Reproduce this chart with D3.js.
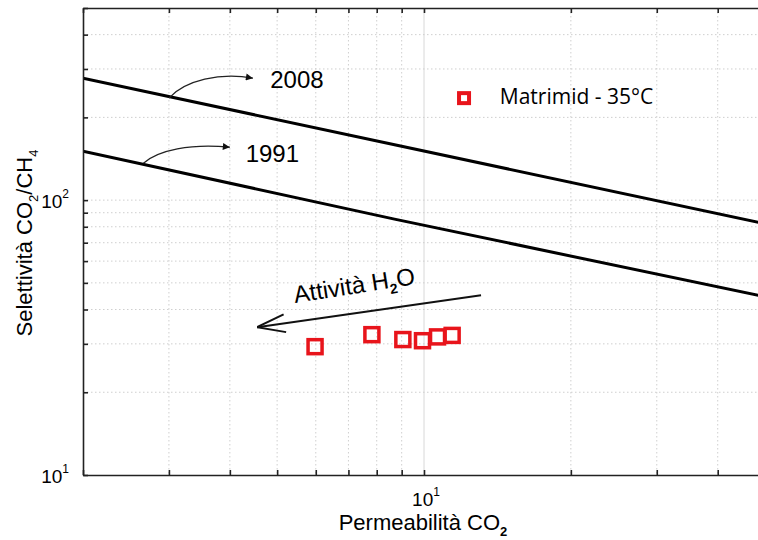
<!DOCTYPE html>
<html>
<head>
<meta charset="utf-8">
<script src="https://cdn.jsdelivr.net/npm/d3@7"></script>
<style>
  html, body { margin: 0; padding: 0; background: #fff; }
  svg { display: block; }
  text { font-family: "Liberation Sans", Arial, sans-serif; fill: #000; }
</style>
</head>
<body>
<svg id="chart" width="758" height="540"></svg>
<script>
// ---------------- DATA ----------------
const xDomain = [2, 50];
const yDomain = [10, 500];
const xMinorTicks = [2, 3, 4, 5, 6, 7, 8, 9, 10, 20, 30, 40, 50];
const yMinorTicks = [10, 20, 30, 40, 50, 60, 70, 80, 90, 100, 200, 300, 400, 500];
const xMajorTicks = [10];
const yMajorTicks = [10, 100];
const xMajorLabels = ["1"];          // exponents of 10
const yMajorLabels = ["1", "2"];

// Matrimid - 35°C data (Permeability CO2, Selectivity CO2/CH4)
const matrimidP = [5.98, 7.82, 9.05, 9.93, 10.66, 11.42];
const matrimidS = [29.3, 32.4, 31.1, 30.8, 31.8, 32.2];

// Robeson upper bounds
const bound2008P = [2, 50];
const bound2008S = [277.7, 82.0];
const bound1991P = [2, 8.7, 50];
const bound1991S = [150.7, 85.3, 44.5];

// annotation anchors (data units)
const arrow2008 = [[3.0, 235], [3.24, 273], [3.82, 292], [4.46, 277.7]];
const arrow1991 = [[2.66, 136.3], [2.85, 152], [3.32, 161], [4.0, 155.8]];
const label2008 = { text: "2008", p: 4.84, s: 255 };
const label1991 = { text: "1991", p: 4.31, s: 137.4 };
const waterArrow = [[13.09, 45.1], [4.55, 34.5]];
const waterLabel = { p: 5.44, s: 42.2 };
const legendSym = { p: 12.08, s: 235 };
const legendText = { text: "Matrimid - 35°C", p: 14.3, s: 223 };

// ---------------- CHART ----------------
const svg = d3.select("#chart");
const L = 83, R = 765, T = 8, B = 475;

const x = d3.scaleLog().domain(xDomain).range([L, R]);
const y = d3.scaleLog().domain(yDomain).range([B, T]);

const defs = svg.append("defs");
defs.append("clipPath").attr("id", "plotclip")
  .append("rect").attr("x", L).attr("y", T).attr("width", R - L).attr("height", B - T);
defs.append("marker").attr("id", "tri")
  .attr("viewBox", "0 0 10 10").attr("refX", 10).attr("refY", 5)
  .attr("markerWidth", 9).attr("markerHeight", 7).attr("markerUnits", "userSpaceOnUse")
  .attr("orient", "auto")
  .append("path").attr("d", "M0,0 L10,5 L0,10 Z").attr("fill", "#111");
defs.append("marker").attr("id", "vee")
  .attr("viewBox", "0 0 30 20").attr("refX", 30).attr("refY", 10)
  .attr("markerWidth", 30).attr("markerHeight", 20).attr("markerUnits", "userSpaceOnUse")
  .attr("orient", "auto")
  .append("path").attr("d", "M2,1 L30,10 L2,19").attr("fill", "none")
  .attr("stroke", "#111").attr("stroke-width", 2);

// grid
const grid = svg.append("g");
grid.selectAll(".vg").data(xMinorTicks.filter(d => d > xDomain[0] && d < xDomain[1]))
  .join("line")
  .attr("x1", d => x(d)).attr("x2", d => x(d)).attr("y1", T).attr("y2", B)
  .attr("stroke", d => xMajorTicks.includes(d) ? "#d8d8d8" : "#cfcfcf")
  .attr("stroke-width", 1)
  .attr("stroke-dasharray", d => xMajorTicks.includes(d) ? null : "1.5,2.5");
grid.selectAll(".hg").data(yMinorTicks.filter(d => d > yDomain[0] && d < yDomain[1]))
  .join("line")
  .attr("x1", L).attr("x2", R).attr("y1", d => y(d)).attr("y2", d => y(d))
  .attr("stroke", "#cfcfcf").attr("stroke-width", 1)
  .attr("stroke-dasharray", "1.5,2.5");

// bound lines
const line = d3.line().x(d => x(d[0])).y(d => y(d[1]));
const plot = svg.append("g").attr("clip-path", "url(#plotclip)");
plot.append("path").datum(d3.zip(bound2008P, bound2008S))
  .attr("d", line).attr("fill", "none").attr("stroke", "#000").attr("stroke-width", 3);
plot.append("path").datum(d3.zip(bound1991P, bound1991S))
  .attr("d", line).attr("fill", "none").attr("stroke", "#000").attr("stroke-width", 3);

// frame & ticks (inward, all sides) via d3 axes
const tk = 5;
svg.append("g").attr("transform", `translate(0,${B})`)
  .call(d3.axisBottom(x).tickValues(xMinorTicks).tickSizeInner(-tk).tickSizeOuter(0).tickFormat(""))
  .call(g => g.selectAll("line,path").attr("stroke", "#222").attr("stroke-width", 1.6));
svg.append("g").attr("transform", `translate(0,${T})`)
  .call(d3.axisTop(x).tickValues(xMinorTicks).tickSizeInner(-tk).tickSizeOuter(0).tickFormat(""))
  .call(g => g.selectAll("line,path").attr("stroke", "#222").attr("stroke-width", 1.6));
svg.append("g").attr("transform", `translate(${L},0)`)
  .call(d3.axisLeft(y).tickValues(yMinorTicks).tickSizeInner(-tk).tickSizeOuter(0).tickFormat(""))
  .call(g => g.selectAll("line,path").attr("stroke", "#222").attr("stroke-width", 1.6));
svg.append("g").attr("transform", `translate(${R},0)`)
  .call(d3.axisRight(y).tickValues(yMinorTicks).tickSizeInner(-tk).tickSizeOuter(0).tickFormat(""))
  .call(g => g.selectAll("line,path").attr("stroke", "#222").attr("stroke-width", 1.6));

// tick labels (10^n)
function powLabel(g, px, py, exp, anchor) {
  const t = g.append("text").attr("x", px).attr("y", py)
    .attr("font-size", 19).attr("text-anchor", anchor).attr("fill", "#222");
  t.append("tspan").text("10");
  t.append("tspan").attr("dy", -10).attr("font-size", 12).text(exp);
  return t;
}
const lab = svg.append("g");
xMajorTicks.forEach((v, i) => powLabel(lab, x(v) + 2, B + 31, xMajorLabels[i], "middle"));
yMajorTicks.forEach((v, i) => powLabel(lab, L - 14, y(v) + 8, yMajorLabels[i], "end"));

// axis titles
const xt = svg.append("text").attr("x", (x(xMajorTicks[0]) - 1)).attr("y", 530)
  .attr("text-anchor", "middle").attr("font-size", 22).attr("fill", "#222");
xt.append("tspan").text("Permeabilità CO");
xt.append("tspan").attr("dy", 6).attr("font-size", 13).attr("font-weight", "bold").text("2");

const yt = svg.append("text").attr("transform", "translate(32,243) rotate(-90)")
  .attr("text-anchor", "middle").attr("font-size", 22).attr("fill", "#222");
yt.append("tspan").text("Selettività CO");
yt.append("tspan").attr("dy", 6).attr("font-size", 13).text("2");
yt.append("tspan").attr("dy", -6).text("/CH");
yt.append("tspan").attr("dy", 6).attr("font-size", 13).text("4");

// data squares
const side = 14;
svg.append("g").selectAll("rect").data(d3.zip(matrimidP, matrimidS)).join("rect")
  .attr("x", d => x(d[0]) - side / 2).attr("y", d => y(d[1]) - side / 2)
  .attr("width", side).attr("height", side)
  .attr("fill", "none").attr("stroke", "#e8141b").attr("stroke-width", 3.5);

// curved arrows
function curve(pts) {
  const p = d3.path();
  const q = pts.map(d => [x(d[0]), y(d[1])]);
  p.moveTo(q[0][0], q[0][1]);
  p.bezierCurveTo(q[1][0], q[1][1], q[2][0], q[2][1], q[3][0], q[3][1]);
  return p.toString();
}
[arrow2008, arrow1991].forEach(a => {
  svg.append("path").attr("d", curve(a)).attr("fill", "none")
    .attr("stroke", "#222").attr("stroke-width", 1.3).attr("marker-end", "url(#tri)");
});
[label2008, label1991].forEach(l => {
  svg.append("text").attr("x", x(l.p)).attr("y", y(l.s)).attr("font-size", 24)
    .attr("fill", "#222").text(l.text);
});

// water activity arrow
svg.append("path").datum(waterArrow).attr("d", line)
  .attr("fill", "none").attr("stroke", "#111").attr("stroke-width", 2)
  .attr("marker-end", "url(#vee)");
const wt = svg.append("text")
  .attr("transform", `translate(${x(waterLabel.p)},${y(waterLabel.s)}) rotate(-9)`)
  .attr("font-size", 24).attr("fill", "#222");
wt.append("tspan").text("Attività H");
wt.append("tspan").attr("dy", 6).attr("font-size", 14).attr("font-weight", "bold").text("2");
wt.append("tspan").attr("dy", -6).text("O");

// legend
svg.append("rect")
  .attr("x", x(legendSym.p) - 5).attr("y", y(legendSym.s) - 5)
  .attr("width", 10).attr("height", 10)
  .attr("fill", "#fff").attr("stroke", "#e8141b").attr("stroke-width", 4);
svg.append("text").attr("x", x(legendText.p)).attr("y", y(legendText.s))
  .style("font-family", "'Open Sans', sans-serif").attr("font-size", 21)
  .attr("fill", "#222").text(legendText.text);
</script>
</body>
</html>
